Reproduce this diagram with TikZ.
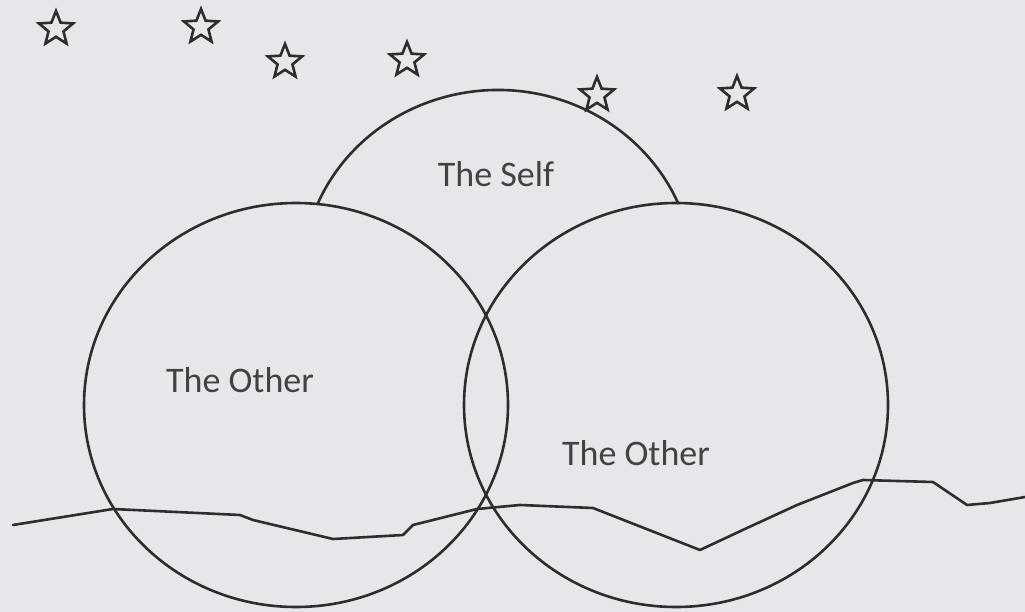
\documentclass[tikz,border=0pt]{standalone}
\usepackage{fontspec}
\setmainfont{Carlito}
\usepackage{tikz}
\usetikzlibrary{shapes.geometric}
\definecolor{paper}{RGB}{229,231,235}
\definecolor{ink}{RGB}{45,45,48}
\tikzset{
  ring/.style={draw=ink, ellipse, line width=2.6pt, minimum width=424, minimum height=404, inner sep=0pt},
  hidden/.style={draw=none, ellipse, minimum width=392, minimum height=374, inner sep=0pt},
  lbl/.style={anchor=base, text=ink!90, font=\fontsize{36}{40}\selectfont, inner sep=0pt},
  spark/.style={draw=ink, star, star points=5, star point ratio=2.3, minimum size=36, inner sep=0pt, line width=2.6pt},
  ground/.style={draw=ink, line width=2.6pt, line join=round, line cap=round},
}
\begin{document}
\begin{tikzpicture}[x=1pt, y=-1pt]
  \fill[paper] (0,0) rectangle (1025,612);
  \useasboundingbox (0,0) rectangle (1025,612);
  % the self, mostly behind the others
  \node[hidden] (self) at (498,277) {};
  \draw[ink, line width=2.6pt] (self.center) ++(203:196 and 187)
    arc[start angle=203, end angle=337, x radius=196, y radius=187];
  \node[ring] (otherL) at (296,405) {};
  \node[ring] (otherR) at (676,405) {};
  \node[lbl] (selfTxt) at (496,187) {The Self};
  \node[lbl] (otherLTxt) at (240,392) {The Other};
  \node[lbl] (otherRTxt) at (636,465) {The Other};
  % stars
  \foreach \i/\p in {1/{(56,29)}, 2/{(201,27)}, 3/{(285,62)}, 4/{(407,60)}, 5/{(597,95)}, 6/{(737,94)}}
    \node[spark] (s\i) at \p {};
  % the horizon
  \draw[ground] (13,525) -- (113,509) -- (240,515) -- (253,520) -- (333,539)
    -- (403,535) -- (413,525) -- (477,509) -- (520,505) -- (593,508)
    -- (700,550) -- (747,528) -- (797,505) -- (853,483) -- (863,480)
    -- (933,482) -- (967,505) -- (990,503) -- (1025,497);
\end{tikzpicture}
\end{document}
